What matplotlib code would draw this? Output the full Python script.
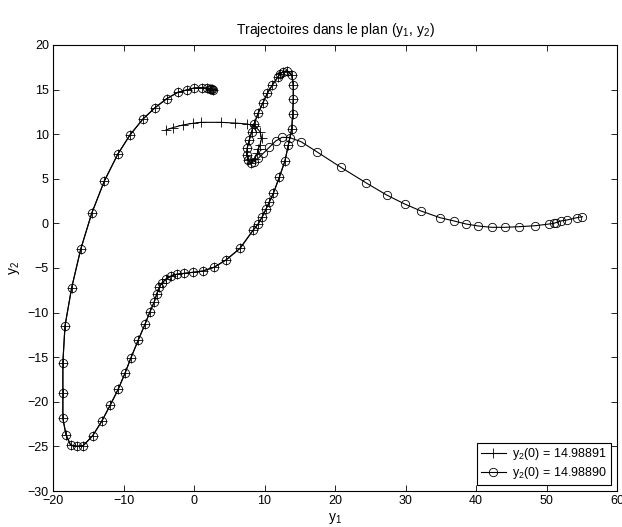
import matplotlib
matplotlib.use('Agg')
import matplotlib.pyplot as plt

plt.rcParams['font.family'] = ['Liberation Sans', 'DejaVu Sans']
plt.rcParams['mathtext.fontset'] = 'custom'
plt.rcParams['mathtext.rm'] = 'Liberation Sans'
plt.rcParams['mathtext.it'] = 'Liberation Sans'
plt.rcParams['mathtext.default'] = 'regular'
plt.rcParams['font.size'] = 9

# common part of both trajectories (before they split)
common_y1 = [2.7, 2.6, 2.45, 2.2, 1.85, 1.1, 0.04, -1.04, -2.31, -3.87, -5.53, -7.28,
             -9.08, -10.82, -12.72, -14.51, -16.07, -17.35, -18.3, -18.6, -18.6, -18.6,
             -18.16, -17.5, -16.64, -15.7, -14.37, -13.1, -11.9, -10.74, -9.79, -8.94,
             -7.9, -6.95, -6.24, -5.63, -5.3, -4.92, -4.58, -3.97, -3.26, -2.45, -1.37,
             -0.1, 1.23, 2.84, 4.54, 6.52, 8.41, 9.1, 9.69, 10.2, 10.7, 11.25, 12.1, 12.9,
             13.38, 13.85, 14.0, 14.08, 14.08, 13.86, 13.23, 12.67, 12.2, 11.87, 11.1,
             10.4, 9.74, 9.12, 8.51, 8.18, 7.84, 7.56, 7.47, 7.7, 8.04]
common_y2 = [14.99, 15.02, 15.06, 15.12, 15.17, 15.21, 15.18, 14.96, 14.69, 13.98, 12.97,
             11.67, 9.91, 7.75, 4.75, 1.13, -2.9, -7.2, -11.5, -15.6, -19.0, -21.85, -23.7,
             -24.85, -25.0, -24.9, -23.8, -22.2, -20.4, -18.57, -16.8, -15.06, -13.07,
             -11.3, -9.9, -8.78, -7.95, -7.16, -6.7, -6.23, -5.9, -5.7, -5.6, -5.48, -5.34,
             -4.92, -4.1, -2.8, -0.74, -0.07, 0.75, 1.58, 2.43, 3.37, 5.17, 7.0, 8.79,
             10.55, 12.23, 13.9, 15.5, 16.64, 17.12, 17.0, 16.75, 16.38, 15.5, 14.58,
             13.46, 12.4, 11.14, 10.28, 9.35, 8.49, 7.67, 7.1, 6.74]

# y2(0) = 14.98891 after the split
plus_y1 = [8.6, 9.0, 9.12, 9.36, 9.6, 9.36, 8.65, 7.5, 5.82, 3.83, 0.99, -0.18, -1.6,
           -3.03, -3.97]
plus_y2 = [7.2, 7.9, 8.3, 8.8, 9.54, 10.28, 10.92, 11.15, 11.25, 11.33, 11.33, 11.22,
           11.03, 10.73, 10.47]

# y2(0) = 14.98890 after the split
circ_y1 = [8.51, 9.12, 9.83, 10.68, 11.59, 12.5, 13.6, 15.18, 17.4, 20.85, 24.4, 27.33,
           29.9, 32.2, 34.9, 36.9, 38.6, 40.3, 42.2, 44.1, 46.1, 48.4, 50.35, 51.0, 51.4,
           52.0, 52.9, 54.3, 55.1]
circ_y2 = [6.92, 7.3, 7.86, 8.53, 9.24, 9.65, 9.61, 9.16, 8.04, 6.28, 4.55, 3.18, 2.17,
           1.39, 0.64, 0.27, -0.07, -0.29, -0.44, -0.44, -0.37, -0.26, -0.07, 0.0, 0.1,
           0.27, 0.38, 0.64, 0.75]

labels = ['y$_2$(0) = 14.98891', 'y$_2$(0) = 14.98890']

fig = plt.figure(figsize=(6.22, 5.27), dpi=100)
ax = fig.add_axes([53 / 622, 36 / 527, 564 / 622, 446 / 527])

ax.plot(common_y1 + plus_y1, common_y2 + plus_y2, 'k-+', lw=0.8, ms=7, mew=0.6,
        label=labels[0])
ax.plot(common_y1 + circ_y1, common_y2 + circ_y2, 'k-o', lw=0.8, ms=6, mew=0.6,
        mfc='none', label=labels[1])

ax.set_xlim(-20, 60)
ax.set_ylim(-30, 20)
ax.set_xticks(range(-20, 61, 10))
ax.set_yticks(range(-30, 21, 5))
ax.tick_params(direction='in', top=True, right=True, length=4, width=0.6, pad=3)
for s in ax.spines.values():
    s.set_linewidth(0.8)

ax.set_title('Trajectoires dans le plan (y$_1$, y$_2$)', fontsize=10, pad=8)
ax.set_xlabel('y$_1$', fontsize=10, labelpad=3)
ax.set_ylabel('y$_2$', fontsize=10, labelpad=4)

leg = ax.legend(loc='lower right', fancybox=False, edgecolor='k', framealpha=1,
                borderaxespad=0.5, handlelength=2.0, borderpad=0.3, labelspacing=0.2,
                handletextpad=0.5, fontsize=9)
leg.get_frame().set_linewidth(0.8)

fig.savefig('out.png', dpi=100)
